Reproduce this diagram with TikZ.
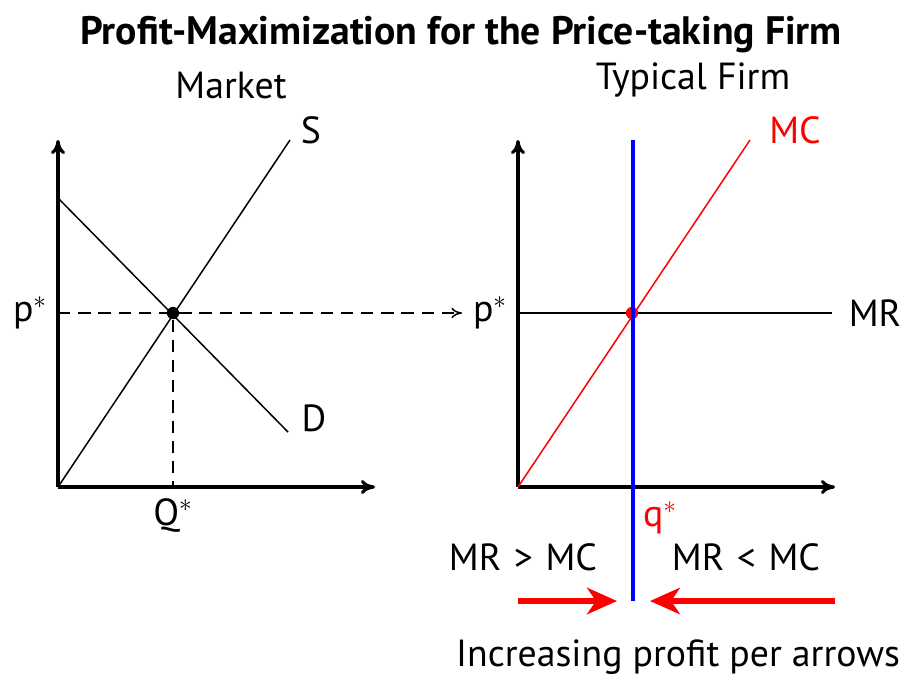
\documentclass[tikz,border=0pt]{standalone}
\usepackage{fontspec}
\setmainfont{PT Sans}
\usetikzlibrary{arrows.meta, positioning}
\tikzset{
  axis/.style={line width=1.8pt, -{To[length=8pt,width=8pt]}},
  curve/.style={line width=0.85pt},
  guide/.style={line width=0.85pt, dashed, dash pattern=on 7pt off 4.5pt},
  label/.style={font=\fontsize{21.5}{25}\selectfont, inner sep=1pt},
  dot/.style={circle, fill=black, inner sep=0pt, minimum size=7pt},
  push/.style={red, line width=3.4pt, -{Stealth[length=17pt,width=15pt,inset=5pt]}}
}

\begin{document}
\begin{tikzpicture}[x=0.02cm, y=-0.02cm]
  \useasboundingbox (0,0) rectangle (905,677);

  % titles
  \node (title) [font=\bfseries\fontsize{22.6}{26}\selectfont] at (461,35) {Profit-Maximization for the Price-taking Firm};
  \node (market) [label] at (231,85) {Market};
  \node (firm) [label] at (693,80) {Typical Firm};

  % market panel
  \coordinate (o1) at (58,487);
  \coordinate (ytop1) at (58,140);
  \coordinate (xend1) at (375,487);
  \coordinate (send) at (290,140);
  \coordinate (dstart) at (58,198);
  \coordinate (dend) at (288,432);
  \coordinate (qbase) at (173,487);
  \coordinate (pleft) at (58,313);
  \coordinate (parrow) at (462,313);
  \node (eq) [dot] at (173,313) {};

  \draw [axis] (o1) -- (ytop1);
  \draw [axis] (o1) -- (xend1);
  \draw [curve] (o1) -- (send);
  \draw [curve] (dstart) -- (dend);
  \draw [guide, -{To[length=6pt,width=6pt]}] (pleft) -- (parrow);
  \draw [guide] (eq) -- (qbase);

  \node (slab) [label] at (311,130) {S};
  \node (dlab) [label] at (314,418) {D};
  \node (plab1) [label] at (30,313) {p$^*$};
  \node (qlab) [label] at (173,515) {Q$^*$};

  % firm panel
  \coordinate (o2) at (518,487);
  \coordinate (ytop2) at (518,140);
  \coordinate (xend2) at (835,487);
  \coordinate (mrstart) at (518,313);
  \coordinate (mrend) at (832,313);
  \coordinate (mcend) at (750,140);
  \coordinate (qtop) at (633,140);
  \coordinate (qbot) at (633,601);

  \draw [axis] (o2) -- (ytop2);
  \draw [axis] (o2) -- (xend2);
  \draw [curve] (mrstart) -- (mrend);
  \draw [curve, red] (o2) -- (mcend);
  \node (opt) [dot, fill=red] at (632,313) {};
  \draw [blue, line width=2.8pt] (qtop) -- (qbot);

  \node (plab2) [label] at (490,313) {p$^*$};
  \node (mrlab) [label] at (875,313) {MR};
  \node (mclab) [label, red] at (795,130) {MC};
  \node (qslab) [label, red] at (660,518) {q$^*$};
  \node (below) [label] at (523,557) {MR\,\,>\,\,MC};
  \node (above) [label] at (746,557) {MR\,\,<\,\,MC};

  % profit arrows
  \coordinate (la) at (518,601);
  \coordinate (lb) at (617,601);
  \coordinate (ra) at (835,601);
  \coordinate (rb) at (650,601);
  \draw [push] (la) -- (lb);
  \draw [push] (ra) -- (rb);

  \node (note) [label] at (678,657) {Increasing profit per arrows};
\end{tikzpicture}
\end{document}
